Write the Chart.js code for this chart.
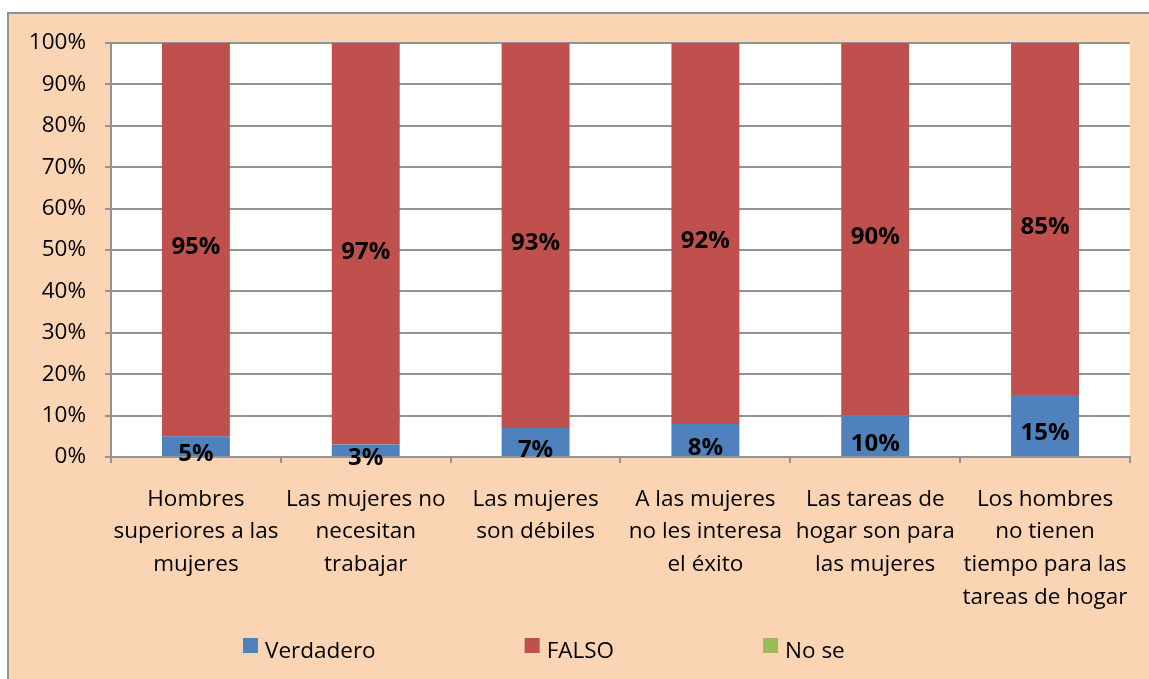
<!DOCTYPE html>
<html>
<head>
<meta charset="utf-8">
<script src="https://cdn.jsdelivr.net/npm/chart.js@4"></script>
<style>
  html, body { margin: 0; padding: 0; background: #fff; }
  #wrap { position: absolute; left: 0; top: 0; width: 1149px; height: 679px; }
</style>
</head>
<body>
<div id="wrap"><canvas id="myChart"></canvas></div>
<script>
const categorias = [
    ['Hombres', 'superiores a las', 'mujeres'],
    ['Las mujeres no', 'necesitan', 'trabajar'],
    ['Las mujeres', 'son débiles'],
    ['A las mujeres', 'no les interesa', 'el éxito'],
    ['Las tareas de', 'hogar son para', 'las mujeres'],
    ['Los hombres', 'no tienen', 'tiempo para las', 'tareas de hogar']
];
const verdadero = [5, 3, 7, 8, 10, 15];
const falso = [95, 97, 93, 92, 90, 85];
const noSe = [0, 0, 0, 0, 0, 0];
const serieNombres = ['Verdadero', 'FALSO', 'No se'];

const FONT = '"Open Sans", "Noto Sans", sans-serif';
const gris = '#939393';

// fondo melocoton con marco gris
const fondo = {
    id: 'fondo',
    beforeDraw(chart) {
        const ctx = chart.ctx;
        ctx.save();
        ctx.fillStyle = '#ffffff';
        ctx.fillRect(0, 0, chart.width, chart.height);
        ctx.fillStyle = '#fbd4b4';
        ctx.fillRect(9, 14, chart.width, chart.height);
        ctx.fillStyle = '#ffffff';
        ctx.fillRect(chart.chartArea.left, chart.chartArea.top,
            chart.chartArea.right - chart.chartArea.left,
            chart.chartArea.bottom - chart.chartArea.top);
        ctx.fillStyle = gris;
        ctx.fillRect(7, 12, 2, chart.height);
        ctx.fillRect(7, 12, chart.width, 2);
        ctx.restore();
    }
};

// etiquetas de porcentaje dentro de las barras
const etiquetas = {
    id: 'etiquetas',
    afterDatasetsDraw(chart) {
        const ctx = chart.ctx;
        ctx.save();
        ctx.font = 'bold 24px ' + FONT;
        ctx.fillStyle = '#000';
        ctx.textAlign = 'center';
        ctx.textBaseline = 'middle';
        chart.data.datasets.forEach((ds, di) => {
            const meta = chart.getDatasetMeta(di);
            meta.data.forEach((bar, i) => {
                const v = ds.data[i];
                if (!v) return;
                ctx.fillText(v + '%', bar.x, (bar.y + bar.base) / 2 + 8);
            });
        });
        ctx.restore();
    }
};

// leyenda abajo
const leyenda = {
    id: 'leyenda',
    afterDraw(chart) {
        const ctx = chart.ctx;
        ctx.save();
        ctx.font = '22.5px ' + FONT;
        ctx.textBaseline = 'middle';
        ctx.textAlign = 'left';
        let x = 243;
        chart.data.datasets.forEach(ds => {
            ctx.fillStyle = ds.backgroundColor;
            ctx.fillRect(x, 638, 15, 15);
            ctx.fillStyle = '#000';
            ctx.fillText(ds.label, x + 22, 652);
            x += 22 + ctx.measureText(ds.label).width + 149;
        });
        ctx.restore();
    }
};

const ctx = document.getElementById('myChart');
new Chart(ctx, {
    type: 'bar',
    data: {
        labels: categorias,
        datasets: [
            { label: serieNombres[0], data: verdadero, backgroundColor: '#4f81bd' },
            { label: serieNombres[1], data: falso, backgroundColor: '#c0504d' },
            { label: serieNombres[2], data: noSe, backgroundColor: '#9bbb59' }
        ]
    },
    options: {
        responsive: true,
        maintainAspectRatio: false,
        animation: false,
        layout: { padding: { top: 43, right: 18, left: 0, bottom: 0 } },
        datasets: {
            bar: { categoryPercentage: 1, barPercentage: 0.4 }
        },
        plugins: {
            legend: { display: false },
            tooltip: { enabled: false }
        },
        scales: {
            x: {
                stacked: true,
                grid: { drawOnChartArea: false, tickLength: 6, color: gris, lineWidth: 2 },
                border: { color: gris, width: 2 },
                ticks: {
                    color: '#000',
                    font: { family: FONT, size: 22.5, lineHeight: 1.45 },
                    padding: 20,
                    maxRotation: 0,
                    autoSkip: false
                },
                afterFit(scale) { scale.height = 222; }
            },
            y: {
                stacked: true,
                min: 0,
                max: 100,
                grid: { color: gris, lineWidth: 2, tickLength: 6 },
                border: { color: gris, width: 2 },
                ticks: {
                    stepSize: 10,
                    color: '#000',
                    font: { family: FONT, size: 22.5 },
                    padding: 19,
                    callback: v => v + '%'
                },
                afterFit(scale) { scale.width = 111; }
            }
        }
    },
    plugins: [fondo, etiquetas, leyenda]
});
</script>
</body>
</html>
